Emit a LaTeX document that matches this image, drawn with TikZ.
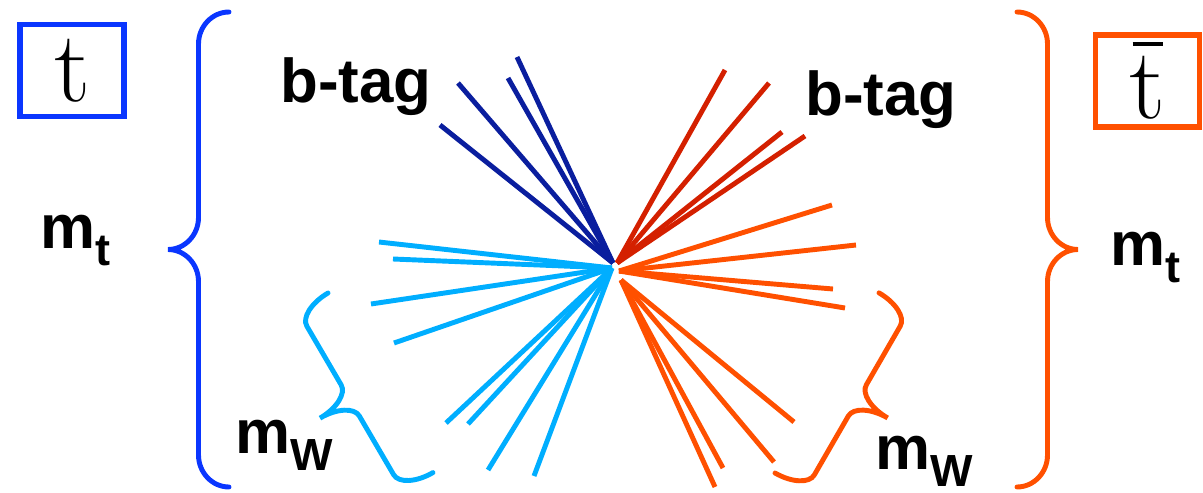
\documentclass[tikz,border=0pt]{standalone}
\usepackage{fontspec}
\setsansfont{Liberation Sans}

\definecolor{topblue}{HTML}{0A36FF}
\definecolor{bjetblue}{HTML}{0A1E9E}
\definecolor{wjetblue}{HTML}{00AEFF}
\definecolor{bjetred}{HTML}{D42000}
\definecolor{topred}{HTML}{FF5000}

% lowered subscript in text font
\newcommand{\lowsub}[1]{\raisebox{-12.5pt}{\fontsize{32}{32}\selectfont #1}}
% t with a bar over it
\newcommand{\antit}{\makebox[0pt][l]{\hspace{0.03em}\rule[0.72em]{0.3em}{0.035em}}t}
% curly brace: [colour]{start}{angle}{length}{half amplitude}{curve length}
\newcommand{\massbrace}[6][]{%
  \begin{scope}[shift={#2}, rotate=#3]
    \draw[#1, line cap=round] (0,0) .. controls (0,{0.55*#5}) and ({0.45*#6},#5) .. (#6,#5)
      -- ({#4/2-#6},#5) .. controls ({#4/2-0.45*#6},#5) and ({#4/2},{1.45*#5}) .. ({#4/2},{2*#5})
      .. controls ({#4/2},{1.45*#5}) and ({#4/2+0.45*#6},#5) .. ({#4/2+#6},#5)
      -- ({#4-#6},#5) .. controls ({#4-0.45*#6},#5) and (#4,{0.55*#5}) .. (#4,0);
  \end{scope}}

\begin{document}
\begin{tikzpicture}[x=0.025cm, y=-0.025cm, line width=3.5pt,
  lbl/.style={font={\sffamily\bfseries\fontsize{44}{44}\selectfont}, inner sep=0pt, anchor=base west},
  quark/.style={draw, line width=3.6pt, minimum width=2.6cm, minimum height=2.3cm, inner sep=0pt, font={\rmfamily\fontsize{72}{72}\selectfont}}]

\useasboundingbox (0,0) rectangle (1203,493);

% quark boxes
\node[quark, draw=topblue] (top) at (72,70.5) {t};
\node[quark, draw=topred] (antitop) at (1147.5,81) {\antit};

% jets
\coordinate (vb) at (613,263);
\coordinate (vw) at (612,268);
\coordinate (vbbar) at (617,263);
\coordinate (vwbar) at (619,271);
\coordinate (vwbarlow) at (621,280);

\foreach \x/\y in {517/57, 508/78, 458/83, 440/125}
  \draw[bjetblue] (vb) -- (\x,\y);
\foreach \x/\y in {379/242, 393/259, 371/304, 394/343, 446/423, 468/424, 488/470, 534/476}
  \draw[wjetblue] (vw) -- (\x,\y);
\foreach \x/\y in {725/70, 769/83, 782/132, 805/136}
  \draw[bjetred] (vbbar) -- (\x,\y);
\foreach \x/\y in {832/205, 856/245, 833/289, 845/308}
  \draw[topred] (vwbar) -- (\x,\y);
\foreach \x/\y in {794/422, 774/462, 723/468, 715/487}
  \draw[topred] (vwbarlow) -- (\x,\y);

% braces
\massbrace[topblue]{(229,12)}{-90}{475}{30.5}{32}
\massbrace[topred]{(1017,487)}{90}{475}{30.5}{32}
\massbrace[wjetblue]{(328,293)}{-59.7}{208}{35}{18}
\massbrace[topred]{(775,473)}{60}{208}{35}{18}

% labels
\node[lbl] (btagl) at (278,102) {b-tag};
\node[lbl] (btagr) at (803,115) {b-tag};
\node[lbl] (mtl) at (38,248) {m\lowsub{t}};
\node[lbl] (mtr) at (1108,265) {m\lowsub{t}};
\node[lbl] (mwl) at (233,453) {m\lowsub{W}};
\node[lbl] (mwr) at (873,469) {m\lowsub{W}};

\end{tikzpicture}
\end{document}
